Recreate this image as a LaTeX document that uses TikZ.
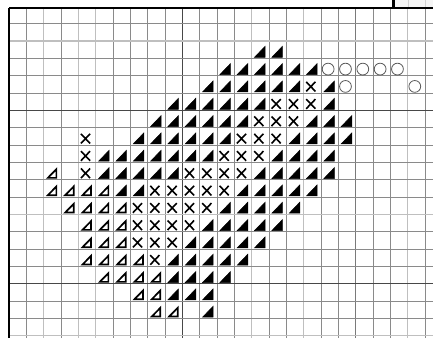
\documentclass[tikz,border=0pt]{standalone}
\tikzset{
  thinline/.style={draw=black!46,line width=0.8pt},
  lightline/.style={draw=black!25,line width=1.4pt},
  darkline/.style={draw=black!72,line width=0.8pt},
  heavyline/.style={draw=black,line width=2.2pt},
  solidmark/.style={fill=black,draw=black,line width=0.5pt,line join=miter},
  hollowmark/.style={draw=black,fill=white,line width=1.7pt,line join=miter},
  crossmark/.style={draw=black,line width=1.6pt},
  ringmark/.style={draw=black!65,line width=0.8pt,fill=white},
  pics/solidtri/.style={code={\path[solidmark] (2.9,16.2) -- (13.5,16.2) -- (13.5,5.2) -- cycle;}},
  pics/hollowtri/.style={code={\path[hollowmark] (4.2,15.5) -- (12.7,15.5) -- (12.7,6.8) -- cycle;}},
  pics/crosssign/.style={code={\path[crossmark] (2.6,6.1) -- (11.8,15.7) (2.6,15.7) -- (11.8,6.1);}},
  pics/ringsign/.style={code={\path[ringmark] (7.2,10.7) circle (5.9);}},
}
\newcommand{\putmarks}[2]{%
  \foreach \r/\cs in {#2}{\foreach \c in \cs{\pic at ({9+17.33*\c},{6.4+17.33*\r}) {#1};}}}
\begin{document}
\begin{tikzpicture}[x=1pt,y=-1pt]
\useasboundingbox (0,0) rectangle (433,338);
\fill[white] (0,0) rectangle (433,338);
% faint remainder above the frame, right
\fill[black!4] (395,0) rectangle (433,7);
\draw[black!18,line width=1pt] (408,0) -- (408,7) (425,0) -- (425,7);
% grid
\foreach \i in {1,3,6,7,8,9,11,12,13,15,16,18,19,21,22,24}
  \draw[thinline] ({9+17.33*\i},8) -- ({9+17.33*\i},338);
\foreach \i in {2,4,5,14,17,23}
  \draw[lightline] ({9+17.33*\i},8) -- ({9+17.33*\i},338);
\draw[darkline] ({9+17.33*10},8) -- ({9+17.33*10},338);
\draw[draw=black!52,line width=1.2pt] ({9+17.33*20},8) -- ({9+17.33*20},338);
\foreach \j in {1,3,4,5,7,8,9,10,11,13,14,15,17,18}
  \draw[thinline] (9,{6.4+17.33*\j}) -- (433,{6.4+17.33*\j});
\foreach \j in {2,12,19}
  \draw[lightline] (9,{6.4+17.33*\j}) -- (433,{6.4+17.33*\j});
\foreach \j in {6,16}
  \draw[darkline] (9,{6.4+17.33*\j}) -- (433,{6.4+17.33*\j});
% frame
\draw[heavyline,line width=1.6pt] (9,8.2) -- (433,8.2);
\draw[heavyline] (9,8) -- (9,338);
\draw[heavyline] (393.5,0) -- (393.5,8.2);
% marks
\putmarks{solidtri}{2/{14,15},
  3/{12,13,14,15,16,17},
  4/{11,12,13,14,15,16,18},
  5/{9,10,11,12,13,14,18},
  6/{8,9,10,11,12,13,17,18,19},
  7/{7,8,9,10,11,12,16,17,18,19},
  8/{5,6,7,8,9,10,11,15,16,17,18},
  9/{5,6,7,8,9,14,15,16,17,18},
  10/{6,7,13,14,15,16,17},
  11/{12,13,14,15,16},
  12/{11,12,13,14,15},
  13/{10,11,12,13,14},
  14/{9,10,11,12,13},
  15/{9,10,11,12},
  16/{9,10,11},
  17/{11}}
\putmarks{hollowtri}{9/{2},
  10/{2,3,4,5},
  11/{3,4,5,6},
  12/{4,5,6},
  13/{4,5,6},
  14/{4,5,6,7},
  15/{5,6,7,8},
  16/{7,8},
  17/{8,9}}
\putmarks{crosssign}{4/{17},
  5/{15,16,17},
  6/{14,15,16},
  7/{4,13,14,15},
  8/{4,12,13,14},
  9/{4,10,11,12,13},
  10/{8,9,10,11,12},
  11/{7,8,9,10,11},
  12/{7,8,9,10},
  13/{7,8,9},
  14/{8}}
\putmarks{ringsign}{3/{18,19,20,21,22},
  4/{19,23}}
\end{tikzpicture}
\end{document}
